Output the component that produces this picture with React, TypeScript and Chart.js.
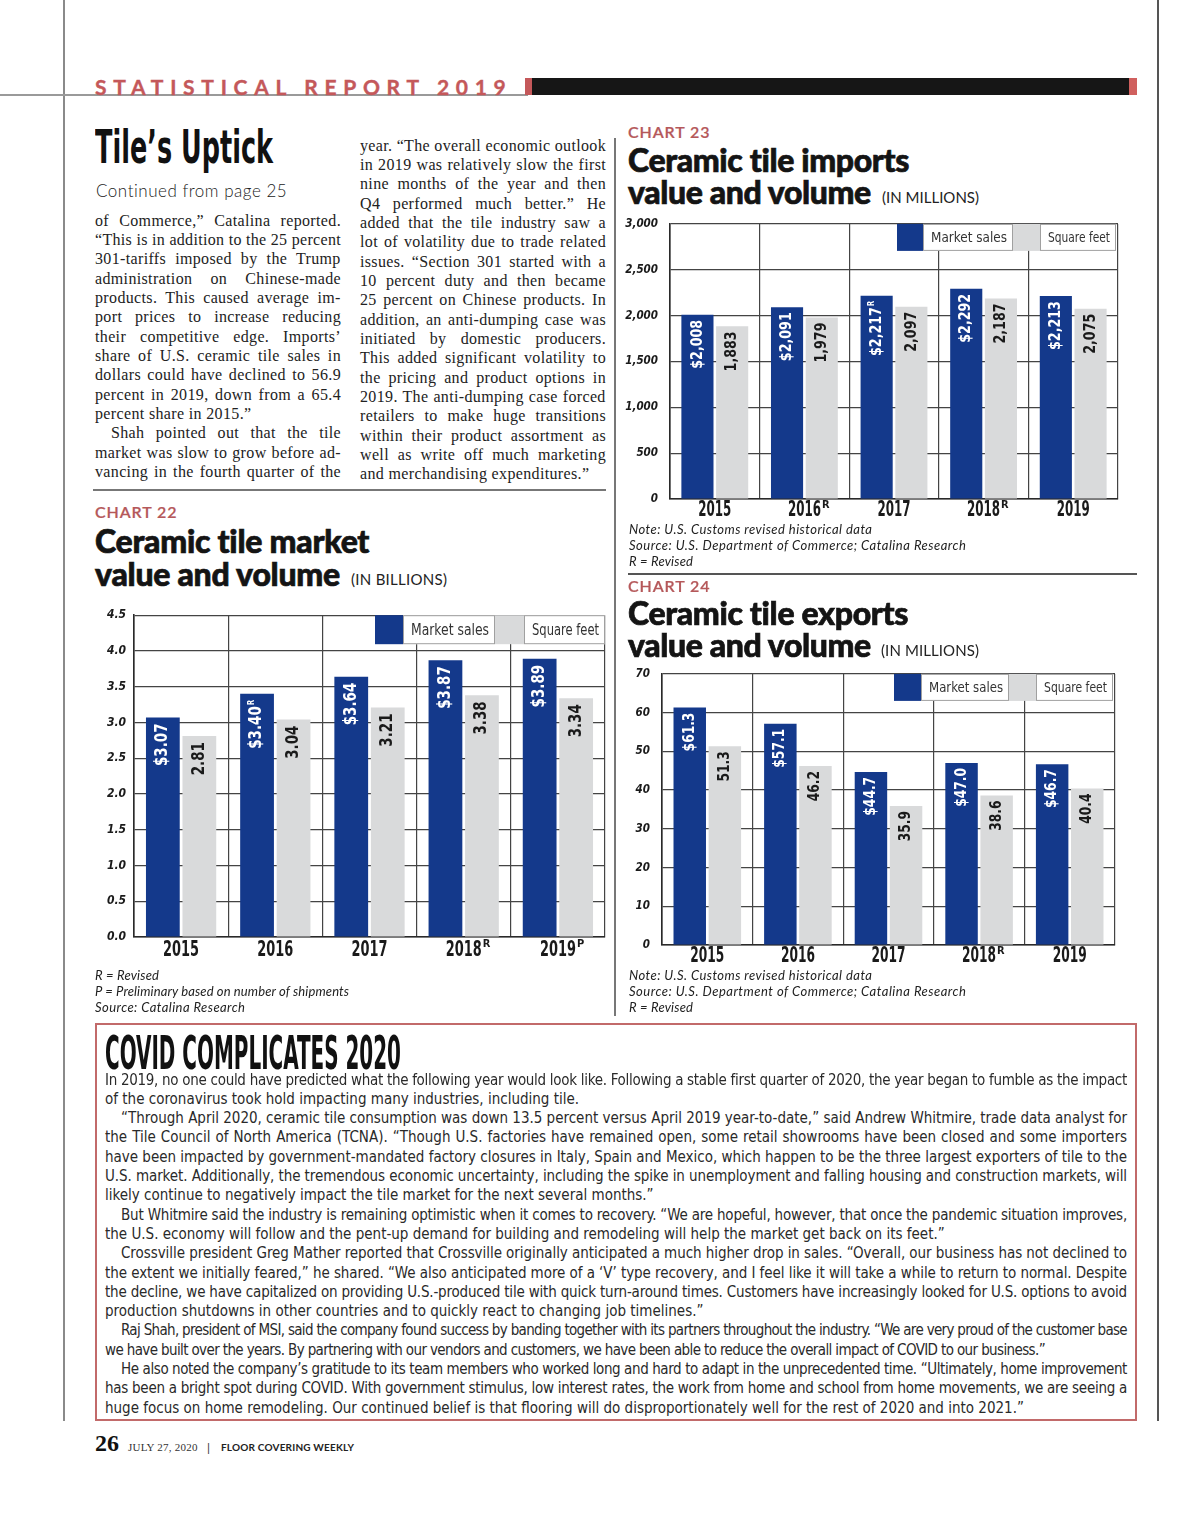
import React, { useEffect, useRef } from 'react';
import { Chart, registerables } from 'chart.js';
Chart.register(...registerables);

// ---------- DATA ----------
const YEARS = ['2015', '2016', '2017', '2018', '2019'];
const LEGEND_LABELS = ['Market sales', 'Square feet'];

// Chart 22 – market (billions)
const C22_SALES = [3.07, 3.4, 3.64, 3.87, 3.89];
const C22_SQFT = [2.81, 3.04, 3.21, 3.38, 3.34];
const C22_SALES_SUP = ['', 'R', '', '', ''];
const C22_YEAR_SUP = ['', '', '', 'R', 'P'];
const C22_Y_MAX = 4.5;
const C22_Y_STEP = 0.5;

// Chart 23 – imports (millions)
const C23_SALES = [2008, 2091, 2217, 2292, 2213];
const C23_SQFT = [1883, 1979, 2097, 2187, 2075];
const C23_SALES_SUP = ['', '', 'R', '', ''];
const C23_YEAR_SUP = ['', 'R', '', 'R', ''];
const C23_Y_MAX = 3000;
const C23_Y_STEP = 500;

// Chart 24 – exports (millions)
const C24_SALES = [61.3, 57.1, 44.7, 47.0, 46.7];
const C24_SQFT = [51.3, 46.2, 35.9, 38.6, 40.4];
const C24_SALES_SUP = ['', '', '', '', ''];
const C24_YEAR_SUP = ['', '', '', 'R', ''];
const C24_Y_MAX = 70;
const C24_Y_STEP = 10;

// ---------- STYLE ----------
const BLUE = '#14398b';
const GRAY = '#d9dadb';
const GRID = '#444';
const RED = '#b5585a';
const NARROW = "'Liberation Sans Narrow', 'DejaVu Sans Condensed', 'Arial Narrow', Roboto, sans-serif";
const GEO = "Lato, 'Open Sans', sans-serif";
const SERIF = "'Liberation Serif', 'DejaVu Serif', serif";

let mctx: CanvasRenderingContext2D | null = null;
function measure(text: string, font: string): number {
  if (!mctx) mctx = document.createElement('canvas').getContext('2d');
  mctx!.font = font;
  return mctx!.measureText(text).width;
}

type Mode = 'justify' | 'spacing' | 'scale' | 'none';
type TP = {
  x: number; cy: number; text: string; fam: string; size: number; weight?: number; ital?: boolean;
  color?: string; w?: number; mode?: Mode; indent?: number; lh?: number; ls?: number; stroke?: number;
};
function Txt(p: TP) {
  const weight = p.weight ?? 400;
  const style = p.ital ? 'italic' : 'normal';
  const font = `${style} ${weight} ${p.size}px ${p.fam}`;
  const lh = p.lh ?? Math.round(p.size * 1.25);
  const indent = p.indent ?? 0;
  const ls = p.ls ?? 0;
  const color = p.color ?? '#222';
  const css: React.CSSProperties = {
    position: 'absolute', left: p.x + indent, top: p.cy - lh / 2, height: lh, lineHeight: `${lh}px`,
    fontFamily: p.fam, fontSize: p.size, fontWeight: weight, fontStyle: style, color,
    whiteSpace: 'nowrap', letterSpacing: ls,
  };
  if (p.stroke) (css as any).WebkitTextStroke = `${p.stroke}px ${color}`;
  if (p.w && p.mode && p.mode !== 'none') {
    const nat = measure(p.text, font) + ls * p.text.length;
    const target = p.w - indent;
    if (p.mode === 'justify') {
      const spaces = (p.text.match(/ /g) || []).length;
      const extra = target - nat;
      if (extra >= 0 && spaces > 0) css.wordSpacing = extra / spaces;
      else css.letterSpacing = ls + extra / p.text.length;
    } else if (p.mode === 'spacing') {
      css.letterSpacing = ls + (target - nat) / Math.max(1, p.text.length - 1);
    } else if (p.mode === 'scale') {
      css.transform = `scaleX(${target / nat})`;
      css.transformOrigin = 'left center';
    }
  }
  return <div style={css}>{p.text}</div>;
}

function Rect({ x, y, w, h, c }: { x: number; y: number; w: number; h: number; c: string }) {
  return <div style={{ position: 'absolute', left: x, top: y, width: w, height: h, background: c }} />;
}

// ---------- CHART ----------
type CP = {
  left: number; top: number; width: number; height: number;
  yW: number; padT: number; padR: number; padB: number; yPad: number;
  yMax: number; yStep: number; yFmt: (v: number) => string; yFont: number;
  sales: number[]; sqft: number[]; salesFmt: (v: number) => string; sqftFmt: (v: number) => string;
  salesSup: string[]; yearSup: string[];
  legW: number[]; legH: number; legInset: number; legFont: number;
  lblFont: number; lblOff: number; xFont: number; xOff: number; xW: number;
};
const SQUEEZE = 0.88;

function BarChart(p: CP) {
  const ref = useRef<HTMLCanvasElement>(null);
  useEffect(() => {
    const overlay = {
      id: 'overlay',
      afterDraw(chart: any) {
        const ctx: CanvasRenderingContext2D = chart.ctx;
        const a = chart.chartArea;
        ctx.save();
        // legend
        const total = p.legW.reduce((s, v) => s + v, 0);
        let lx = a.right - p.legInset - total;
        const ly = a.top;
        const cols = [BLUE, '#fff', GRAY, '#fff'];
        p.legW.forEach((w, i) => {
          ctx.fillStyle = cols[i];
          ctx.fillRect(lx, ly, w, p.legH);
          if (i % 2 === 1) {
            ctx.strokeStyle = '#a0a0a0';
            ctx.lineWidth = 1;
            ctx.strokeRect(lx + 0.5, ly + 0.5, w - 1, p.legH - 1);
            ctx.fillStyle = '#333';
            ctx.font = `400 ${p.legFont}px ${NARROW}`;
            ctx.textAlign = 'left';
            ctx.textBaseline = 'middle';
            ctx.fillText(LEGEND_LABELS[(i - 1) / 2], lx + 8, ly + p.legH / 2 + 1, w - 14);
          }
          lx += w;
        });
        // bar value labels (rotated)
        chart.data.datasets.forEach((ds: any, di: number) => {
          const meta = chart.getDatasetMeta(di);
          meta.data.forEach((bar: any, i: number) => {
            const v = ds.data[i] as number;
            const txt = di === 0 ? p.salesFmt(v) : p.sqftFmt(v);
            const sup = di === 0 ? p.salesSup[i] : '';
            ctx.save();
            ctx.translate(bar.x, bar.y + p.lblOff);
            ctx.rotate(-Math.PI / 2);
            ctx.scale(SQUEEZE, 1);
            ctx.fillStyle = di === 0 ? '#fff' : '#1a1a1a';
            ctx.textAlign = 'right';
            ctx.textBaseline = 'middle';
            let supW = 0;
            if (sup) {
              ctx.font = `700 ${Math.round(p.lblFont * 0.55)}px ${NARROW}`;
              supW = ctx.measureText(sup).width + 1;
              ctx.fillText(sup, 0, -p.lblFont * 0.3);
            }
            ctx.font = `700 ${p.lblFont}px ${NARROW}`;
            ctx.fillText(txt, -supW, 0);
            ctx.restore();
          });
        });
        // x labels
        const xs = chart.scales.x;
        YEARS.forEach((yr, i) => {
          const cx = xs.getPixelForValue(i);
          const cy = a.bottom + p.xOff;
          ctx.font = `700 ${p.xFont}px ${NARROW}`;
          ctx.fillStyle = '#1a1a1a';
          ctx.textAlign = 'center';
          ctx.textBaseline = 'middle';
          const nat = ctx.measureText(yr).width;
          const w = Math.min(nat, p.xW);
          ctx.fillText(yr, cx, cy, p.xW);
          if (p.yearSup[i]) {
            ctx.font = `700 ${Math.round(p.xFont * 0.5)}px ${NARROW}`;
            ctx.textAlign = 'left';
            ctx.fillText(p.yearSup[i], cx + w / 2 + 1, cy - p.xFont * 0.28);
          }
        });
        ctx.restore();
      },
    };
    const chart = new Chart(ref.current!, {
      type: 'bar',
      data: {
        labels: YEARS,
        datasets: [
          { label: LEGEND_LABELS[0], data: p.sales, backgroundColor: BLUE, categoryPercentage: 0.775, barPercentage: 0.925 },
          { label: LEGEND_LABELS[1], data: p.sqft, backgroundColor: GRAY, categoryPercentage: 0.775, barPercentage: 0.925 },
        ],
      },
      options: {
        responsive: false,
        animation: false,
        devicePixelRatio: 1,
        layout: { padding: { top: p.padT, right: p.padR, bottom: p.padB, left: 0 } },
        plugins: { legend: { display: false }, tooltip: { enabled: false } },
        scales: {
          x: {
            grid: { offset: true, color: GRID, lineWidth: 1.2, drawTicks: false },
            border: { color: '#2a2a2a', width: 1.6 },
            ticks: { display: false },
          },
          y: {
            min: 0,
            max: p.yMax,
            grid: { color: GRID, lineWidth: 1.2, drawTicks: false },
            border: { color: '#2a2a2a', width: 1.6 },
            ticks: {
              stepSize: p.yStep,
              padding: p.yPad,
              color: '#1a1a1a',
              font: { family: NARROW, size: p.yFont, weight: 'bold', style: 'italic' },
              callback: (v: any) => p.yFmt(Number(v)),
            },
            afterFit: (s: any) => { s.width = p.yW; },
          },
        },
      } as any,
      plugins: [overlay],
    });
    return () => chart.destroy();
  }, []);
  return (
    <canvas
      ref={ref}
      width={p.width}
      height={p.height}
      style={{ position: 'absolute', left: p.left, top: p.top, width: p.width, height: p.height }}
    />
  );
}

// ---------- TEXT ----------
// [text, mode, indent, width override]
type LineDef = [string, Mode, number, number?];
const LEFT_COL: LineDef[] = [
  ['of Commerce,” Catalina reported.', 'justify', 0],
  ['“This is in addition to the 25 percent', 'justify', 0],
  ['301-tariffs imposed by the Trump', 'justify', 0],
  ['administration on Chinese-made', 'justify', 0],
  ['products. This caused average im-', 'justify', 0],
  ['port prices to increase reducing', 'justify', 0],
  ['their competitive edge. Imports’', 'justify', 0],
  ['share of U.S. ceramic tile sales in', 'justify', 0],
  ['dollars could have declined to 56.9', 'justify', 0],
  ['percent in 2019, down from a 65.4', 'justify', 0],
  ['percent share in 2015.”', 'none', 0],
  ['Shah pointed out that the tile', 'justify', 16],
  ['market was slow to grow before ad-', 'justify', 0],
  ['vancing in the fourth quarter of the', 'justify', 0],
];
const MID_COL: LineDef[] = [
  ['year. “The overall economic outlook', 'justify', 0],
  ['in 2019 was relatively slow the first', 'justify', 0],
  ['nine months of the year and then', 'justify', 0],
  ['Q4 performed much better.” He', 'justify', 0],
  ['added that the tile industry saw a', 'justify', 0],
  ['lot of volatility due to trade related', 'justify', 0],
  ['issues. “Section 301 started with a', 'justify', 0],
  ['10 percent duty and then became', 'justify', 0],
  ['25 percent on Chinese products. In', 'justify', 0],
  ['addition, an anti-dumping case was', 'justify', 0],
  ['initiated by domestic producers.', 'justify', 0],
  ['This added significant volatility to', 'justify', 0],
  ['the pricing and product options in', 'justify', 0],
  ['2019. The anti-dumping case forced', 'justify', 0],
  ['retailers to make huge transitions', 'justify', 0],
  ['within their product assortment as', 'justify', 0],
  ['well as write off much marketing', 'justify', 0],
  ['and merchandising expenditures.”', 'none', 0],
];
const COVID: LineDef[] = [
  ['In 2019, no one could have predicted what the following year would look like. Following a stable first quarter of 2020, the year began to fumble as the impact', 'justify', 0],
  ['of the coronavirus took hold impacting many industries, including tile.', 'none', 0],
  ['“Through April 2020, ceramic tile consumption was down 13.5 percent versus April 2019 year-to-date,” said Andrew Whitmire, trade data analyst for', 'justify', 16],
  ['the Tile Council of North America (TCNA). “Though U.S. factories have remained open, some retail showrooms have been closed and some importers', 'justify', 0],
  ['have been impacted by government-mandated factory closures in Italy, Spain and Mexico, which happen to be the three largest exporters of tile to the', 'justify', 0],
  ['U.S. market. Additionally, the tremendous economic uncertainty, including the spike in unemployment and falling housing and construction markets, will', 'justify', 0],
  ['likely continue to negatively impact the tile market for the next several months.”', 'none', 0],
  ['But Whitmire said the industry is remaining optimistic when it comes to recovery. “We are hopeful, however, that once the pandemic situation improves,', 'justify', 16],
  ['the U.S. economy will follow and the pent-up demand for building and remodeling will help the market get back on its feet.”', 'none', 0],
  ['Crossville president Greg Mather reported that Crossville originally anticipated a much higher drop in sales. “Overall, our business has not declined to', 'justify', 16],
  ['the extent we initially feared,” he shared. “We also anticipated more of a ‘V’ type recovery, and I feel like it will take a while to return to normal. Despite', 'justify', 0],
  ['the decline, we have capitalized on providing U.S.-produced tile with quick turn-around times. Customers have increasingly looked for U.S. options to avoid', 'justify', 0],
  ['production shutdowns in other countries and to quickly react to changing job timelines.”', 'none', 0],
  ['Raj Shah, president of MSI, said the company found success by banding together with its partners throughout the industry. “We are very proud of the customer base', 'justify', 16],
  ['we have built over the years. By partnering with our vendors and customers, we have been able to reduce the overall impact of COVID to our business.”', 'justify', 0, 940],
  ['He also noted the company’s gratitude to its team members who worked long and hard to adapt in the unprecedented time. “Ultimately, home improvement', 'justify', 16],
  ['has been a bright spot during COVID. With government stimulus, low interest rates, the work from home and school from home movements, we are seeing a', 'justify', 0],
  ['huge focus on home remodeling. Our continued belief is that flooring will do disproportionately well for the rest of 2020 and into 2021.”', 'none', 0],
];

function Column({ lines, x, y0, step, w, fam, size, color, ls }: { lines: LineDef[]; x: number; y0: number; step: number; w: number; fam: string; size: number; color: string; ls?: number }) {
  return (
    <>
      {lines.map(([t, m, ind, wo], i) => (
        <Txt key={i} x={x} cy={y0 + i * step} text={t} fam={fam} size={size} color={color} w={wo ?? w} mode={m} indent={ind} lh={19} ls={ls} />
      ))}
    </>
  );
}

function ChartHead({ x, num, l1, l2, unit, y0, w1, w2, wu, ux, d1, d2 }: { x: number; num: string; l1: string; l2: string; unit: string; y0: number; w1: number; w2: number; wu: number; ux: number; d1: number; d2: number }) {
  return (
    <>
      <Txt x={x} cy={y0} text={num} fam={GEO} size={16} weight={600} color={RED} w={82} mode="spacing" stroke={0.2} />
      <Txt x={x} cy={y0 + d1} text={l1} fam={GEO} size={32} weight={900} color="#141414" w={w1} mode="spacing" lh={36} stroke={0.7} />
      <Txt x={x} cy={y0 + d2} text={l2} fam={GEO} size={32} weight={900} color="#141414" w={w2} mode="spacing" lh={36} stroke={0.7} />
      <Txt x={ux} cy={y0 + d2 + 5} text={unit} fam={GEO} size={15} weight={400} color="#222" w={wu} mode="spacing" />
    </>
  );
}

function Notes({ x, y0, lines }: { x: number; y0: number; lines: [string, number][] }) {
  return (
    <>
      {lines.map(([t, w], i) => (
        <Txt key={i} x={x} cy={y0 + i * 16} text={t} fam={GEO} size={13} ital color="#222" w={w} mode="spacing" />
      ))}
    </>
  );
}

export default function App() {
  useEffect(() => {
    document.body.style.margin = '0';
    document.body.style.background = '#fff';
  }, []);

  return (
    <div style={{ position: 'relative', width: 1200, height: 1516, overflow: 'hidden', background: '#fff' }}>
      {/* frame lines */}
      <Rect x={63} y={0} w={2} h={1421} c="#8a8a8a" />
      <Rect x={1157} y={0} w={2} h={1421} c="#555" />
      <Rect x={0} y={94} w={528} h={2} c="#9a9a9a" />
      <Rect x={614} y={138} w={2} h={878} c="#777" />
      <Rect x={93} y={489} w={513} h={2} c="#777" />
      <Rect x={628} y={573} w={509} h={2} c="#555" />

      {/* header */}
      <Txt x={95} cy={87} text="STATISTICAL REPORT 2019" fam={GEO} size={21} weight={700} color="#c4585a" w={412} mode="spacing" stroke={0.4} />
      <Rect x={525} y={78} w={7} h={17} c="#c4585a" />
      <Rect x={532} y={78} w={598} h={17} c="#161616" />
      <Rect x={1129} y={78} w={8} h={17} c="#d0605e" />

      {/* story head */}
      <Txt x={95} cy={147} text="Tile’s Uptick" fam={NARROW} size={46} weight={700} color="#111" w={178} mode="scale" lh={50} />
      <Txt x={96} cy={190} text="Continued from page 25" fam={GEO} size={17} weight={300} color="#222" w={191} mode="spacing" />

      <Column lines={LEFT_COL} x={95} y0={220} step={19.35} w={246} fam={SERIF} size={16} color="#222" ls={0.35} />
      <Column lines={MID_COL} x={360} y0={145} step={19.35} w={246} fam={SERIF} size={16} color="#222" ls={0.35} />

      {/* chart 22 */}
      <ChartHead x={95} num="CHART 22" l1="Ceramic tile market" l2="value and volume" unit="(IN BILLIONS)" y0={512} w1={275} w2={246} wu={96} ux={351} d1={29} d2={62} />
      <BarChart
        left={85} top={600} width={525} height={370} yW={49} padT={13} padR={5} padB={33} yPad={8}
        yMax={C22_Y_MAX} yStep={C22_Y_STEP} yFmt={(v) => v.toFixed(1)} yFont={12}
        sales={C22_SALES} sqft={C22_SQFT} salesFmt={(v) => `$${v.toFixed(2)}`} sqftFmt={(v) => v.toFixed(2)}
        salesSup={C22_SALES_SUP} yearSup={C22_YEAR_SUP}
        legW={[28, 92, 29, 81]} legH={29} legInset={0} legFont={15}
        lblFont={17} lblOff={6} xFont={22} xOff={13} xW={36}
      />
      <Notes x={95} y0={975} lines={[['R = Revised', 64], ['P = Preliminary based on number of shipments', 255], ['Source: Catalina Research', 150]]} />

      {/* chart 23 */}
      <ChartHead x={628} num="CHART 23" l1="Ceramic tile imports" l2="value and volume" unit="(IN MILLIONS)" y0={132} w1={282} w2={244} wu={97} ux={882} d1={28} d2={60} />
      <BarChart
        left={612} top={205} width={511} height={330} yW={58} padT={16} padR={5} padB={36} yPad={12}
        yMax={C23_Y_MAX} yStep={C23_Y_STEP} yFmt={(v) => v.toLocaleString('en-US')} yFont={11.5}
        sales={C23_SALES} sqft={C23_SQFT} salesFmt={(v) => `$${v.toLocaleString('en-US')}`} sqftFmt={(v) => v.toLocaleString('en-US')}
        salesSup={C23_SALES_SUP} yearSup={C23_YEAR_SUP}
        legW={[26, 90, 27, 76]} legH={27} legInset={2} legFont={14.5}
        lblFont={16} lblOff={5} xFont={21} xOff={12} xW={33}
      />
      <Notes x={629} y0={529} lines={[['Note: U.S. Customs revised historical data', 243], ['Source: U.S. Department of Commerce; Catalina Research', 337], ['R = Revised', 64]]} />

      {/* chart 24 */}
      <ChartHead x={628} num="CHART 24" l1="Ceramic tile exports" l2="value and volume" unit="(IN MILLIONS)" y0={586} w1={281} w2={244} wu={98} ux={881} d1={27} d2={59} />
      <BarChart
        left={612} top={655} width={511} height={330} yW={50} padT={16} padR={8} padB={40} yPad={12}
        yMax={C24_Y_MAX} yStep={C24_Y_STEP} yFmt={(v) => String(v)} yFont={11.5}
        sales={C24_SALES} sqft={C24_SQFT} salesFmt={(v) => `$${v.toFixed(1)}`} sqftFmt={(v) => v.toFixed(1)}
        salesSup={C24_SALES_SUP} yearSup={C24_YEAR_SUP}
        legW={[27, 88, 27, 77]} legH={27} legInset={2} legFont={14.5}
        lblFont={15.5} lblOff={5} xFont={21} xOff={12} xW={34}
      />
      <Notes x={629} y0={975} lines={[['Note: U.S. Customs revised historical data', 243], ['Source: U.S. Department of Commerce; Catalina Research', 337], ['R = Revised', 64]]} />

      {/* COVID box */}
      <div style={{ position: 'absolute', left: 95, top: 1023, width: 1042, height: 398, border: '2px solid #c26a6a', boxSizing: 'border-box' }} />
      <Txt x={105} cy={1053} text="COVID COMPLICATES 2020" fam={NARROW} size={46} weight={700} color="#111" w={296} mode="scale" lh={50} />
      <Column lines={COVID} x={105} y0={1080} step={19.3} w={1022} fam={NARROW} size={15} color="#2a2a2a" />

      {/* footer */}
      <Txt x={95} cy={1443} text="26" fam={SERIF} size={24} weight={700} color="#111" />
      <Txt x={128} cy={1447} text="JULY 27, 2020" fam={SERIF} size={11} color="#333" w={70} mode="spacing" />
      <Txt x={207} cy={1447} text="|" fam={GEO} size={12} color="#333" />
      <Txt x={221} cy={1447} text="FLOOR COVERING WEEKLY" fam={GEO} size={10} weight={700} color="#222" w={133} mode="spacing" />
    </div>
  );
}
